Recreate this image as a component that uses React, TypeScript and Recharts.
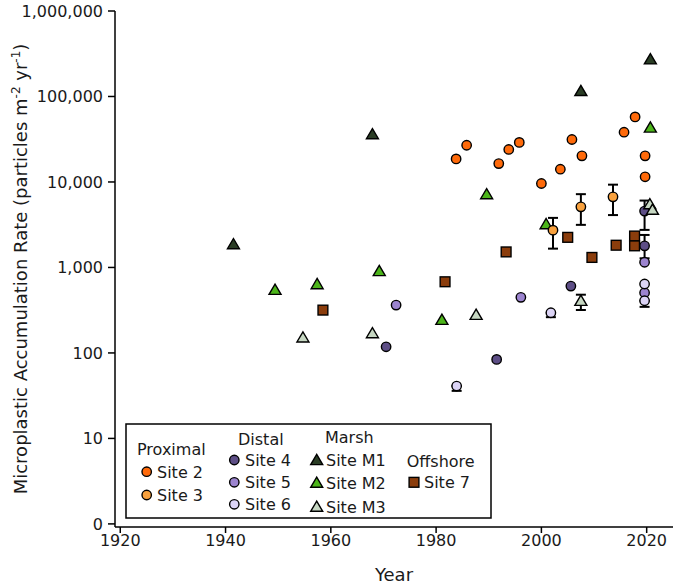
import React from "react";
import { ScatterChart, Scatter, XAxis, YAxis, ErrorBar, Label } from "recharts";

type Pt = { year: number; value: number; lo?: number; hi?: number };

// values
const site2: Pt[] = [
  { year: 1983.8, value: 18600 },
  { year: 1985.8, value: 26900 },
  { year: 1991.9, value: 16400 },
  { year: 1993.8, value: 24000 },
  { year: 1995.8, value: 29000 },
  { year: 2000, value: 9600 },
  { year: 2003.6, value: 14100 },
  { year: 2005.8, value: 31400 },
  { year: 2007.7, value: 20200 },
  { year: 2015.7, value: 38200 },
  { year: 2017.8, value: 57700 },
  { year: 2019.7, value: 20200 },
  { year: 2019.7, value: 11500 },
];

const site3: Pt[] = [
  { year: 2002.2, value: 2730, lo: 1660, hi: 3800 },
  { year: 2007.5, value: 5120, lo: 3150, hi: 7200 },
  { year: 2013.6, value: 6700, lo: 4100, hi: 9300 },
];

const site4: Pt[] = [
  { year: 1970.5, value: 118 },
  { year: 1991.5, value: 84 },
  { year: 2005.6, value: 605 },
  { year: 2019.6, value: 4560, lo: 2750, hi: 6060 },
  { year: 2019.6, value: 1790, lo: 1280, hi: 2400 },
];

const site5: Pt[] = [
  { year: 1972.4, value: 363 },
  { year: 1996.1, value: 447 },
  { year: 2019.6, value: 1150 },
  { year: 2019.6, value: 506 },
];

const site6: Pt[] = [
  { year: 1983.9, value: 41, lo: 36, hi: 41 },
  { year: 2001.8, value: 295, lo: 262, hi: 295 },
  { year: 2019.6, value: 640 },
  { year: 2019.6, value: 408, lo: 346, hi: 408 },
];

const siteM1: Pt[] = [
  { year: 1941.5, value: 1825 },
  { year: 1967.9, value: 35300 },
  { year: 2007.5, value: 113000 },
  { year: 2020.7, value: 265000 },
];

const siteM2: Pt[] = [
  { year: 1949.4, value: 533 },
  { year: 1957.4, value: 622 },
  { year: 1969.2, value: 883 },
  { year: 1981.1, value: 238 },
  { year: 1989.6, value: 7010 },
  { year: 2000.9, value: 3130 },
  { year: 2020.7, value: 42200 },
];

const siteM3: Pt[] = [
  { year: 1954.7, value: 148 },
  { year: 1967.9, value: 166 },
  { year: 1987.6, value: 272 },
  { year: 2007.5, value: 397, lo: 318, hi: 480 },
  { year: 2020.6, value: 5360 },
  { year: 2021.1, value: 4610 },
];

const site7: Pt[] = [
  { year: 1958.5, value: 317 },
  { year: 1981.7, value: 680 },
  { year: 1993.3, value: 1520 },
  { year: 2005.0, value: 2250 },
  { year: 2009.6, value: 1310 },
  { year: 2014.2, value: 1820 },
  { year: 2017.7, value: 2330 },
  { year: 2017.7, value: 1790 },
];

const xTicks = [1920, 1940, 1960, 1980, 2000, 2020];
const yTicks = [1, 10, 100, 1000, 10000, 100000, 1000000];

const FONT = "'DejaVu Sans', Verdana, sans-serif";
const INK = "#1a1a1a";

const COLORS = {
  s2: "#ff6a0a",
  s3: "#f8a13e",
  s4: "#5d4e86",
  s5: "#9c84cf",
  s6: "#dcd4f6",
  m1: "#2a3d25",
  m2: "#4cb51a",
  m3: "#c6d7c2",
  s7: "#8b3d0c",
};

type Kind = "circle" | "triangle" | "square";

function mark(kind: Kind, cx: number, cy: number, fill: string, key?: string) {
  const st = { fill, stroke: "#000", strokeWidth: 1.4 };
  if (kind === "circle") return <circle key={key} cx={cx} cy={cy} r={4.7} {...st} />;
  if (kind === "square")
    return <rect key={key} x={cx - 4.9} y={cy - 4.9} width={9.8} height={9.8} {...st} />;
  return (
    <polygon
      key={key}
      points={`${cx},${cy - 6.6} ${cx + 6},${cy + 3.6} ${cx - 6},${cy + 3.6}`}
      {...st}
    />
  );
}

const shapeOf = (kind: Kind, fill: string) => (p: any) => mark(kind, p.cx, p.cy, fill);

const withErr = (rows: Pt[]) =>
  rows.map((r) => ({ ...r, err: [r.value - (r.lo ?? r.value), (r.hi ?? r.value) - r.value] }));

const errRows = withErr([...site3, ...site4, ...site6, ...siteM3].filter((r) => r.lo !== undefined));

const fmtY = (v: number) => (v === 1 ? "0" : v.toLocaleString("en-US"));

function YTitle(props: any) {
  const vb = props.viewBox || { x: 0, y: 11, width: 115, height: 516 };
  const cx = 20;
  const cy = vb.y + vb.height / 2;
  return (
    <text
      x={cx}
      y={cy}
      transform={`rotate(-90, ${cx}, ${cy})`}
      textAnchor="middle"
      dy={6.5}
      fontSize={18}
      fontFamily={FONT}
      fill={INK}
    >
      Microplastic Accumulation Rate (particles m
      <tspan dy={-7} fontSize={12}>-2</tspan>
      <tspan dy={7}> yr</tspan>
      <tspan dy={-7} fontSize={12}>-1</tspan>
      <tspan dy={7}>)</tspan>
    </text>
  );
}

function XTitle(props: any) {
  const vb = props.viewBox || { x: 115, y: 527, width: 558, height: 57 };
  return (
    <text
      x={vb.x + vb.width / 2}
      y={vb.y + vb.height - 3}
      textAnchor="middle"
      fontSize={18}
      fontFamily={FONT}
      fill={INK}
    >
      Year
    </text>
  );
}

function LegendBox() {
  const t = { fontSize: 16, fontFamily: FONT, fill: INK };
  return (
    <svg
      width={677}
      height={584}
      style={{ position: "absolute", left: 0, top: 0, pointerEvents: "none" }}
    >
      <rect x={126} y={424} width={365} height={94} fill="#fff" stroke="#000" strokeWidth={1.5} />
      <text x={137} y={455} {...t}>Proximal</text>
      {mark("circle", 146.7, 471.7, COLORS.s2)}
      <text x={157} y={477.5} {...t}>Site 2</text>
      {mark("circle", 146.7, 495, COLORS.s3)}
      <text x={157} y={500.8} {...t}>Site 3</text>

      <text x={238} y={445} {...t}>Distal</text>
      {mark("circle", 234.3, 460, COLORS.s4)}
      <text x={245} y={466} {...t}>Site 4</text>
      {mark("circle", 234.3, 482.3, COLORS.s5)}
      <text x={245} y={488} {...t}>Site 5</text>
      {mark("circle", 234.3, 504.3, COLORS.s6)}
      <text x={245} y={510} {...t}>Site 6</text>

      <text x={325} y={442.5} {...t}>Marsh</text>
      {mark("triangle", 316.7, 461, COLORS.m1)}
      <text x={326} y={466} {...t}>Site M1</text>
      {mark("triangle", 316.7, 483.7, COLORS.m2)}
      <text x={326} y={488.5} {...t}>Site M2</text>
      {mark("triangle", 316.7, 507.7, COLORS.m3)}
      <text x={326} y={512.5} {...t}>Site M3</text>

      <text x={406.7} y={467} {...t}>Offshore</text>
      {mark("square", 414, 482.3, COLORS.s7)}
      <text x={424} y={488} {...t}>Site 7</text>
    </svg>
  );
}

export default function App() {
  const tick = { fontSize: 16, fontFamily: FONT, fill: INK };
  const axisLine = { stroke: "#000", strokeWidth: 1.5 };
  return (
    <div style={{ position: "absolute", left: 0, top: 0, width: 677, height: 584, background: "#fff" }}>
      <ScatterChart width={677} height={584} margin={{ top: 11, right: 4, bottom: 0, left: 0 }}>
        <XAxis
          type="number"
          dataKey="year"
          domain={[1919, 2025]}
          ticks={xTicks}
          allowDataOverflow
          height={57}
          tick={tick}
          tickSize={6}
          tickMargin={2}
          axisLine={axisLine}
          tickLine={axisLine}
        >
          <Label content={<XTitle />} />
        </XAxis>
        <YAxis
          type="number"
          dataKey="value"
          scale="log"
          domain={[0.92, 1000000]}
          ticks={yTicks}
          allowDataOverflow
          width={115}
          tick={tick}
          tickFormatter={fmtY}
          tickSize={7}
          tickMargin={5}
          axisLine={axisLine}
          tickLine={axisLine}
        >
          <Label content={<YTitle />} />
        </YAxis>

        <Scatter data={errRows} shape={() => <g />} isAnimationActive={false}>
          <ErrorBar dataKey="err" direction="y" width={5} stroke="#000" strokeWidth={2} />
        </Scatter>

        <Scatter name="Site M1" data={siteM1} shape={shapeOf("triangle", COLORS.m1)} isAnimationActive={false} />
        <Scatter name="Site M2" data={siteM2} shape={shapeOf("triangle", COLORS.m2)} isAnimationActive={false} />
        <Scatter name="Site 7" data={site7} shape={shapeOf("square", COLORS.s7)} isAnimationActive={false} />
        <Scatter name="Site 2" data={site2} shape={shapeOf("circle", COLORS.s2)} isAnimationActive={false} />
        <Scatter name="Site 3" data={site3} shape={shapeOf("circle", COLORS.s3)} isAnimationActive={false} />
        <Scatter name="Site 4" data={site4} shape={shapeOf("circle", COLORS.s4)} isAnimationActive={false} />
        <Scatter name="Site 5" data={site5} shape={shapeOf("circle", COLORS.s5)} isAnimationActive={false} />
        <Scatter name="Site 6" data={site6} shape={shapeOf("circle", COLORS.s6)} isAnimationActive={false} />
        <Scatter name="Site M3" data={siteM3} shape={shapeOf("triangle", COLORS.m3)} isAnimationActive={false} />
      </ScatterChart>
      <LegendBox />
    </div>
  );
}
